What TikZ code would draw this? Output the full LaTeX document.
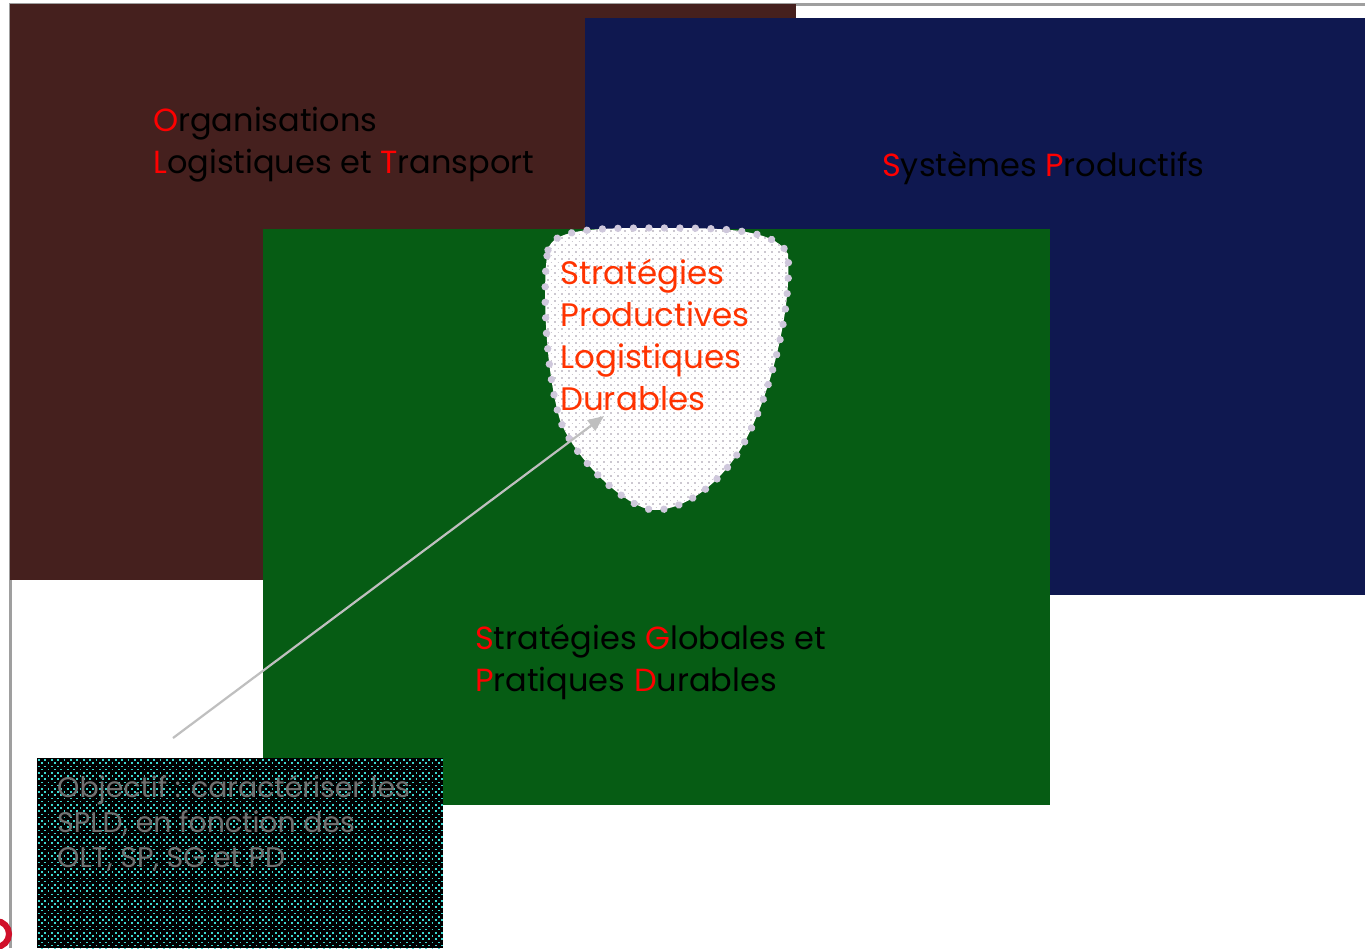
\documentclass[tikz,border=0pt]{standalone}
\usepackage{fontspec}
\setmainfont{Poppins}
\usetikzlibrary{arrows.meta,decorations.markings}
\definecolor{brownbox}{HTML}{45201E}
\definecolor{navybox}{HTML}{0F1850}
\definecolor{greenbox}{HTML}{065C14}
\definecolor{lav}{HTML}{CFC8DC}
\definecolor{orangered}{HTML}{FF3300}
\definecolor{cyandot}{HTML}{3CD8D0}
\definecolor{objtext}{HTML}{707070}
\definecolor{greydot}{HTML}{CCC8D0}
\definecolor{logored}{HTML}{D0102A}
\tikzset{
  lbl/.style={anchor=base west, inner sep=0pt, align=left, font=\fontsize{32}{42}\selectfont, text=black},
  tealrow/.style={cyandot, line width=1.7pt, dash pattern=on 1.7pt off 4.7pt},
  greyrow/.style={greydot, line width=1.6pt, dash pattern=on 1.6pt off 5.4pt},
  beads/.style={decoration={markings, mark=between positions 0 and 1 step 15.5pt with {\fill[lav] (0,0) circle (3.7pt);}}, postaction={decorate}},
}
\begin{document}
\begin{tikzpicture}[x=1pt,y=-1pt]
\useasboundingbox (0,0) rectangle (1365,948);
\fill[white] (0,0) rectangle (1365,948);
% frame
\draw[gray!75, line width=2.5pt] (10.5,948) -- (10.5,4.5) -- (1365,4.5);
% boxes
\fill[brownbox] (10,4) rectangle (796,580);
\fill[navybox] (585,18) rectangle (1365,595);
\fill[greenbox] (263,229) rectangle (1050,805);
% texts on boxes
\node[lbl] (olt) at (153,173) {\textcolor{red}{O}rganisations\\\textcolor{red}{L}ogistiques et \textcolor{red}{T}ransport};
\node[lbl] (sp) at (882,176) {\textcolor{red}{S}ystèmes \textcolor{red}{P}roductifs};
\node[lbl] (sg) at (475,691) {\textcolor{red}{S}tratégies \textcolor{red}{G}lobales et\\\textcolor{red}{P}ratiques \textcolor{red}{D}urables};
% shield
\def\shield{(548,250) .. controls (552,228) and (600,228) .. (660,228)
  .. controls (720,228) and (774,228) .. (788,254)
  .. controls (792,310) and (770,400) .. (740,450)
  .. controls (715,490) and (680,510) .. (655,510)
  .. controls (628,510) and (575,460) .. (560,420)
  .. controls (545,370) and (542,280) .. (548,250) -- cycle}
\fill[white] \shield;
\begin{scope}
\clip \shield;
\foreach \j in {0,...,42}{
  \draw[greyrow] (540,224+\j*7) -- (800,224+\j*7);
  \draw[greyrow] (543.5,227.5+\j*7) -- (800,227.5+\j*7);
}
\end{scope}
\path[beads] \shield;
\node[lbl, text=orangered, font=\fontsize{32.5}{42}\selectfont] (spld) at (560,410) {Stratégies\\Productives\\Logistiques\\Durables};
% objective box
\fill[black] (37,758) rectangle (443,948);
\begin{scope}
\clip (37,758) rectangle (443,948);
\foreach \j in {0,...,30}{
  \draw[tealrow] (38,760+\j*6.4) -- (444,760+\j*6.4);
  \draw[tealrow] (41.2,763.2+\j*6.4) -- (444,763.2+\j*6.4);
}
\end{scope}
\node[lbl, text=objtext, font=\fontsize{28.4}{35}\selectfont] (obj) at (57,867) {Objectif : caractériser les\\SPLD, en fonction des\\OLT, SP, SG et PD};
% arrow
\coordinate (a0) at (173,738);
\coordinate (a1) at (604,416);
\draw[gray!50, line width=2.2pt, -{Triangle[length=16pt,width=13pt]}] (a0) -- (a1);
% red fragment bottom-left
\draw[logored, line width=6pt] (-4,947) arc (90:-90:13);
\end{tikzpicture}
\end{document}
